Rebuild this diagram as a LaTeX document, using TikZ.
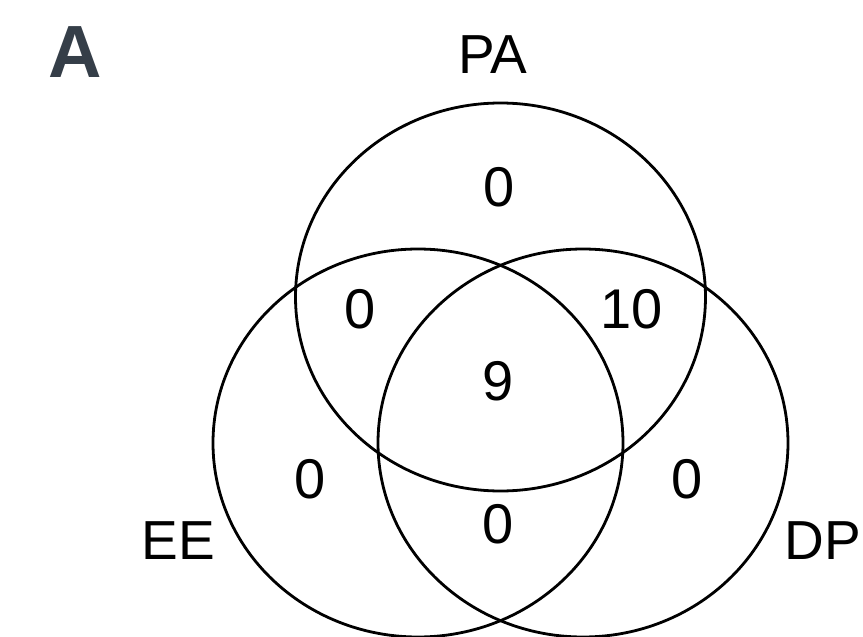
\documentclass[tikz,border=0pt]{standalone}
\usepackage{fontspec}
\setmainfont{Liberation Sans}
\usetikzlibrary{shapes.geometric}
\definecolor{panelgray}{HTML}{353E48}
\begin{document}
\begin{tikzpicture}[x=1pt,y=-1pt,
  setring/.style={draw=black, line width=2.8pt, ellipse, inner sep=0pt,
    minimum width=410pt, minimum height=388pt},
  setlabel/.style={inner sep=0pt, font=\fontsize{55}{62}\selectfont},
  count/.style={inner sep=0pt, font=\fontsize{56}{62}\selectfont},
  paneltag/.style={inner sep=0pt, text=panelgray, font=\fontsize{74}{80}\selectfont\bfseries}]
\useasboundingbox (0,0) rectangle (863,637);
\node[setring] (pa) at (500.5,297) {};
\node[setring] (ee) at (418,443) {};
\node[setring] (dp) at (583,443) {};
\node[paneltag] (tag) at (75.5,52.5) {A};
\node[setlabel] (lpa) at (493,55) {PA};
\node[setlabel] (lee) at (178.5,541) {EE};
\node[setlabel] (ldp) at (823,541) {DP};
\node[count] (npa) at (499,187) {0};
\node[count] (npaee) at (360,309) {0};
\node[count] (npadp) at (632,309) {10};
\node[count] (nall) at (498,381) {9};
\node[count] (nee) at (310,479) {0};
\node[count] (ndp) at (687,479) {0};
\node[count] (needp) at (498,524) {0};
\end{tikzpicture}
\end{document}
